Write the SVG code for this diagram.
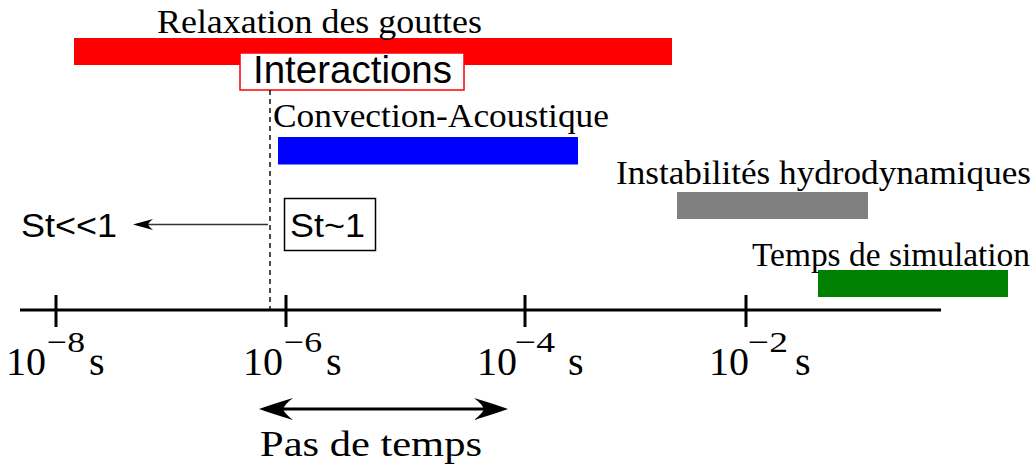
<svg xmlns="http://www.w3.org/2000/svg" width="1035" height="465" viewBox="0 0 1035 465">
  <style>
    .serif { font-family: "Liberation Serif", "DejaVu Serif", serif; fill: #000; }
    .sans { font-family: "Liberation Sans", Arial, sans-serif; fill: #000; }
    .lbl { font-size: 34px; }
    .big { font-size: 40px; }
    .sup { font-size: 30px; }
    .axis { stroke: #000; stroke-width: 3; fill: none; }
    .box { fill: #fff; stroke-width: 1.5; }
  </style>
  <defs>
    <marker id="bigHead" viewBox="0 0 34 22" markerWidth="34" markerHeight="22" markerUnits="userSpaceOnUse" refX="26" refY="11" orient="auto-start-reverse">
      <path d="M34,11 Q20,6 0,0 Q8,6 10,11 Q8,16 0,22 Q20,16 34,11 Z" fill="#000"/>
    </marker>
    <marker id="smallHead" viewBox="0 0 20 11" markerWidth="20" markerHeight="11" markerUnits="userSpaceOnUse" refX="16" refY="5.5" orient="auto">
      <path d="M20,5.5 Q11,3 0,0 Q4,3 5,5.5 Q4,8 0,11 Q11,8 20,5.5 Z" fill="#000"/>
    </marker>
  </defs>

  <g id="relaxation">
    <rect x="74" y="38" width="598" height="27" fill="#ff0000"/>
    <text class="serif lbl" x="157" y="33" textLength="325" lengthAdjust="spacingAndGlyphs">Relaxation des gouttes</text>
  </g>

  <g id="interactions">
    <rect class="box" x="240" y="53" width="224" height="37" stroke="#ff0000"/>
    <text class="sans" x="253" y="83" font-size="39" textLength="199" lengthAdjust="spacingAndGlyphs">Interactions</text>
  </g>

  <g id="convection">
    <rect x="278" y="137" width="300" height="27.5" fill="#0000ff"/>
    <text class="serif lbl" x="273" y="127" textLength="336" lengthAdjust="spacingAndGlyphs">Convection-Acoustique</text>
  </g>

  <g id="instabilites">
    <rect x="677" y="192" width="191" height="27" fill="#808080"/>
    <text class="serif lbl" x="616" y="184" textLength="415" lengthAdjust="spacingAndGlyphs">Instabilités hydrodynamiques</text>
  </g>

  <g id="simulation">
    <rect x="818" y="270" width="190" height="27" fill="#008000"/>
    <text class="serif lbl" x="752" y="266" textLength="278" lengthAdjust="spacingAndGlyphs">Temps de simulation</text>
  </g>

  <g id="st-sim1">
    <rect class="box" x="284.5" y="198.5" width="91" height="52" stroke="#000"/>
    <text class="sans" x="290" y="237" font-size="34" textLength="75" lengthAdjust="spacingAndGlyphs">St~1</text>
  </g>

  <g id="st-ll1">
    <text class="sans" x="21" y="237" font-size="34" textLength="96" lengthAdjust="spacingAndGlyphs">St&lt;&lt;1</text>
  </g>

  <g id="axis">
    <line class="axis" x1="20" y1="310" x2="941" y2="310"/>
    <line class="axis" x1="56" y1="295" x2="56" y2="327"/>
    <line class="axis" x1="286" y1="295" x2="286" y2="327"/>
    <line class="axis" x1="525" y1="295" x2="525" y2="327"/>
    <line class="axis" x1="746" y1="295" x2="746" y2="327"/>
  </g>

  <g id="tick-labels">
    <text class="serif"><tspan class="big" x="6" y="375">10</tspan><tspan class="sup" x="47" y="352" textLength="38" lengthAdjust="spacingAndGlyphs">−8</tspan><tspan class="big" x="89" y="375">s</tspan></text>
    <text class="serif"><tspan class="big" x="243" y="375">10</tspan><tspan class="sup" x="284" y="352" textLength="38" lengthAdjust="spacingAndGlyphs">−6</tspan><tspan class="big" x="326" y="375">s</tspan></text>
    <text class="serif"><tspan class="big" x="477" y="375">10</tspan><tspan class="sup" x="515" y="352" textLength="40" lengthAdjust="spacingAndGlyphs">−4</tspan><tspan class="big" x="568" y="375">s</tspan></text>
    <text class="serif"><tspan class="big" x="709" y="375">10</tspan><tspan class="sup" x="748" y="352" textLength="40" lengthAdjust="spacingAndGlyphs">−2</tspan><tspan class="big" x="795" y="375">s</tspan></text>
  </g>

  <g id="pas-de-temps">
    <text class="serif" x="260" y="456" font-size="35" textLength="222" lengthAdjust="spacingAndGlyphs">Pas de temps</text>
  </g>

  <g id="connectors">
    <line x1="270" y1="90" x2="270" y2="309" stroke="#000" stroke-width="1.4" stroke-dasharray="5,4"/>
    <line x1="268" y1="224.5" x2="137" y2="224.5" stroke="#333" stroke-width="1.4" marker-end="url(#smallHead)"/>
    <line x1="267" y1="409" x2="500" y2="409" stroke="#000" stroke-width="3" marker-start="url(#bigHead)" marker-end="url(#bigHead)"/>
  </g>
</svg>
